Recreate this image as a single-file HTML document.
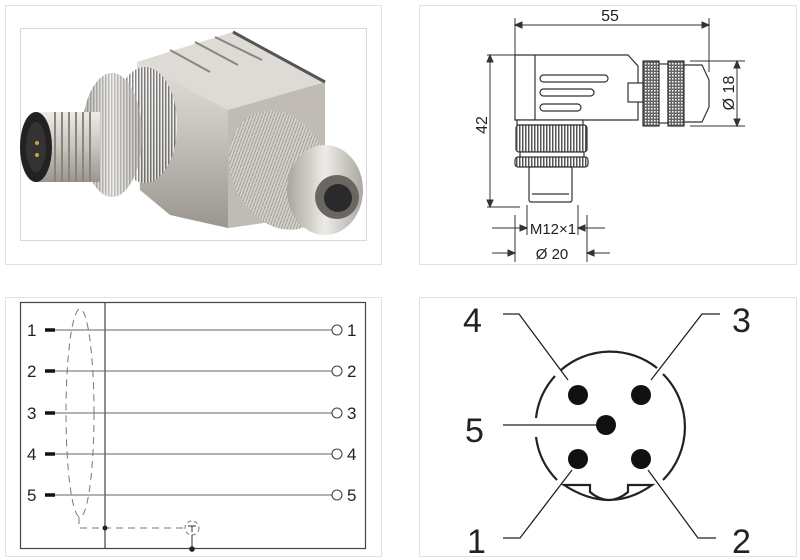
<!DOCTYPE html>
<html><head><meta charset="utf-8"><style>
body{margin:0;background:#fff;width:800px;height:560px;overflow:hidden}
svg{display:block}
text{font-family:"Liberation Sans",sans-serif;fill:#222}
</style></head><body>
<svg width="800" height="560" viewBox="0 0 800 560" xmlns="http://www.w3.org/2000/svg">
<defs>
<pattern id="kn" width="3" height="3" patternUnits="userSpaceOnUse"><rect width="3" height="3" fill="#fff"/><rect width="1.5" height="3" fill="#555"/></pattern>
<pattern id="kx" width="3" height="3" patternUnits="userSpaceOnUse"><rect width="3" height="3" fill="#666"/><rect width="1.5" height="1.5" fill="#fff"/></pattern>
<linearGradient id="met" x1="0" y1="0" x2="0" y2="1"><stop offset="0" stop-color="#eeece8"/><stop offset=".5" stop-color="#c8c4be"/><stop offset="1" stop-color="#9a968f"/></linearGradient>
<linearGradient id="met2" x1="0" y1="0" x2="1" y2="0"><stop offset="0" stop-color="#a8a49d"/><stop offset=".5" stop-color="#eeece8"/><stop offset="1" stop-color="#aba7a0"/></linearGradient>
<pattern id="pk" width="4" height="4" patternUnits="userSpaceOnUse"><rect width="4" height="4" fill="#d6d3ce"/><path d="M0 4L4 0" stroke="#9d9993" stroke-width="1"/></pattern>
</defs>
<rect x="5.5" y="5.5" width="376" height="259" fill="none" stroke="#e2e2e2"/>
<rect x="419.5" y="5.5" width="377" height="259" fill="none" stroke="#e2e2e2"/>
<rect x="5.5" y="297.5" width="376" height="259" fill="none" stroke="#e2e2e2"/>
<rect x="419.5" y="297.5" width="377" height="259" fill="none" stroke="#e2e2e2"/>

<rect x="20.5" y="28.5" width="346" height="212" fill="#fff" stroke="#d8d8d8"/>
<polygon points="137,62 233,32 325,82 325,214 228,228 170,215 140,190" fill="url(#met)"/>
<polygon points="228,110 325,82 325,214 228,228" fill="#c0bcb5"/>
<polygon points="137,62 233,32 325,82 228,110" fill="#dedbd6"/>
<path d="M170 50 L210 72 M195 42 L238 65 M215 37 L262 60" stroke="#8a857e" stroke-width="2"/>
<path d="M233 32 L325 82" stroke="#555" stroke-width="3"/>
<ellipse cx="145" cy="125" rx="32" ry="58" fill="url(#kn)" opacity=".7"/>
<ellipse cx="112" cy="135" rx="30" ry="62" fill="url(#met2)"/>
<ellipse cx="112" cy="135" rx="30" ry="62" fill="url(#kn)" opacity=".3"/>
<rect x="35" y="112" width="65" height="70" fill="url(#met)"/>
<path d="M55 112v70M62 112v70M69 112v70M76 112v70M83 112v70M90 112v70" stroke="#8a867f" stroke-width="2"/>
<ellipse cx="36" cy="147" rx="16" ry="35" fill="#222"/>
<ellipse cx="36" cy="147" rx="10" ry="25" fill="#333"/>
<circle cx="37" cy="143" r="2" fill="#c9a24a"/><circle cx="37" cy="155" r="2" fill="#c9a24a"/>
<ellipse cx="280" cy="170" rx="48" ry="62" transform="rotate(-25 280 170)" fill="url(#pk)"/>
<ellipse cx="325" cy="190" rx="38" ry="45" fill="url(#met2)"/>
<circle cx="337" cy="197" r="22" fill="#6a6763"/>
<circle cx="338" cy="198" r="14" fill="#2a2a2a"/>

<g stroke="#333" fill="none" stroke-width="1">
<path d="M515 18V55M709 18V72M515 25H709"/>
<path d="M515 25l7-3v6zM709 25l-7-3v6z" fill="#333"/>
<path d="M487 55H520M487 207H520M490 55V207"/>
<path d="M490 55l-3 7h6zM490 207l-3-7h6z" fill="#333"/>
<path d="M690 61H745M690 126H745M737 61V126"/>
<path d="M737 61l-3 7h6zM737 126l-3-7h6z" fill="#333"/>
<path d="M527 205V235M578 205V235M492 228H527M578 228H605"/>
<path d="M527 228l-7-3v6zM578 228l7-3v6z" fill="#333"/>
<path d="M515 215V262M587 215V262M492 253H515M587 253H610"/>
<path d="M515 253l-7-3v6zM587 253l7-3v6z" fill="#333"/>
</g>
<g stroke="#333" stroke-width="1.2" fill="#fff">
<path d="M515 55H628L638 66V120H515Z"/>
<path d="M535 55V120" fill="none"/>
<rect x="540" y="75" width="68" height="7" rx="3.5"/>
<rect x="540" y="89" width="54" height="7" rx="3.5"/>
<rect x="540" y="104" width="41" height="7" rx="3.5"/>
<rect x="628" y="83" width="15" height="19"/>
<rect x="643" y="61" width="16" height="65" fill="url(#kx)"/>
<rect x="659" y="64" width="9" height="59"/>
<rect x="668" y="61" width="16" height="65" fill="url(#kx)"/>
<path d="M684 65H702L709 80V107L702 122H684Z"/>
<rect x="517" y="120" width="66" height="5"/>
<rect x="516" y="125" width="71" height="27" rx="3" fill="url(#kn)"/>
<rect x="520" y="152" width="64" height="6"/>
<rect x="515" y="157" width="73" height="10" rx="3" fill="url(#kn)"/>
<rect x="529" y="167" width="43" height="35" rx="2"/>
<path d="M532 194H569" fill="none"/>
</g>
<text x="610" y="21" font-size="16" text-anchor="middle">55</text>
<text x="553" y="234" font-size="15" text-anchor="middle">M12×1</text>
<text x="552" y="259" font-size="15" text-anchor="middle">Ø 20</text>
<text transform="translate(487 125) rotate(-90)" font-size="16" text-anchor="middle">42</text>
<text transform="translate(734 93) rotate(-90)" font-size="16" text-anchor="middle">Ø 18</text>

<rect x="20.5" y="302.5" width="345" height="246" fill="none" stroke="#444" stroke-width="1.2"/>
<path d="M105 302V549" stroke="#444" stroke-width="1.2"/>
<g font-size="17">
<text x="27" y="336">1</text><text x="27" y="377">2</text><text x="27" y="419">3</text><text x="27" y="460">4</text><text x="27" y="501">5</text>
<text x="347" y="336">1</text><text x="347" y="377">2</text><text x="347" y="419">3</text><text x="347" y="460">4</text><text x="347" y="501">5</text>
</g>
<g stroke="#333" stroke-width="1">
<path d="M55 330H332M55 371H332M55 413H332M55 454H332M55 495H332" stroke="#666"/>
<path d="M45 330H55M45 371H55M45 413H55M45 454H55M45 495H55" stroke="#111" stroke-width="3.5"/>
</g>
<g fill="#fff" stroke="#444" stroke-width="1.1">
<circle cx="337" cy="330" r="5"/><circle cx="337" cy="371" r="5"/><circle cx="337" cy="413" r="5"/><circle cx="337" cy="454" r="5"/><circle cx="337" cy="495" r="5"/>
</g>
<ellipse cx="80" cy="413" rx="14" ry="104" fill="none" stroke="#777" stroke-dasharray="7 5"/>
<path d="M79 517V528H183" fill="none" stroke="#777" stroke-dasharray="7 5"/>
<circle cx="105" cy="528" r="2.5" fill="#222"/>
<circle cx="192" cy="528" r="7" fill="none" stroke="#777" stroke-dasharray="4 3"/>
<path d="M188 526H196M192 526V532M192 535V549" stroke="#333"/>
<circle cx="192" cy="549" r="2.8" fill="#222"/>

<g fill="none" stroke="#222" stroke-width="2.2">
<path d="M561 370 A75 75 0 0 1 657 368"/>
<path d="M663 374 A75 75 0 0 1 663 480"/>
<path d="M555 376 A75 75 0 0 0 536 418"/>
<path d="M536 437 A75 75 0 0 0 557 480"/>
<path d="M564 485H590V492Q609 508 628 492V485H652Q610 515 564 485Z" fill="#fff"/>
</g>
<g fill="none" stroke="#222" stroke-width="1.3">
<path d="M503 314H519L568 380"/>
<path d="M720 314H702L651 380"/>
<path d="M503 425H598"/>
<path d="M503 538H520L572 470"/>
<path d="M716 538H698L648 470"/>
</g>
<g fill="#111">
<circle cx="578" cy="395" r="10"/><circle cx="641" cy="395" r="10"/><circle cx="606" cy="425" r="10"/><circle cx="578" cy="459" r="10"/><circle cx="641" cy="459" r="10"/>
</g>
<g font-size="34" fill="#222">
<text x="463" y="332">4</text><text x="732" y="332">3</text><text x="465" y="442">5</text><text x="467" y="553">1</text><text x="732" y="553">2</text>
</g>
</svg>
</body></html>
